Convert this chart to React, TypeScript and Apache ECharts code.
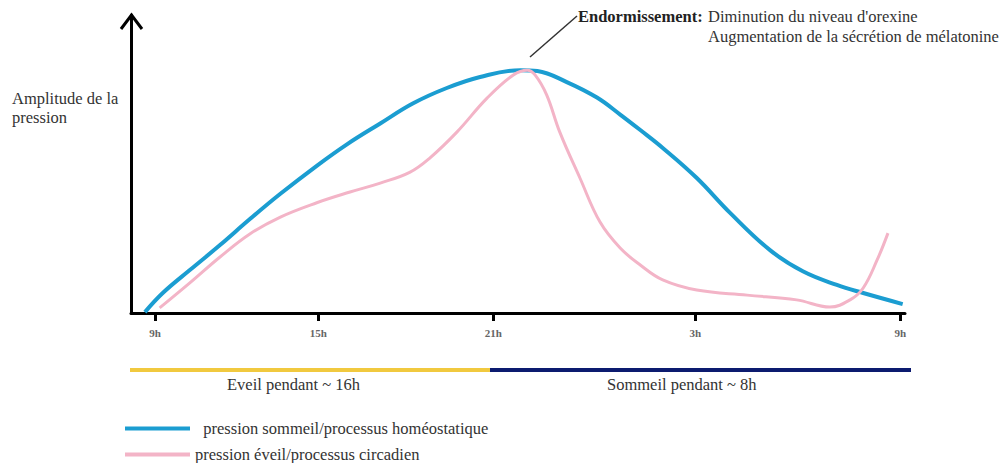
import React, { useEffect, useRef } from "react";
import * as echarts from "echarts";

// Abstract time axis: 0..100 along the drawn horizontal axis
const tickValues = [3.1, 24.2, 46.8, 72.9, 99.4];
const tickLabels = ["9h", "15h", "21h", "3h", "9h"];

const homeostaticName = "pression sommeil/processus homéostatique";
const circadianName = "pression éveil/processus circadien";

// [time position, amplitude]
const homeostaticPoints = [
  [1.8, 0.3], [4.1, 6.7], [7.6, 14.4], [11.5, 22.8], [15.4, 31.6], [19.3, 40.0],
  [24.0, 49.4], [27.9, 56.6], [32.2, 63.6], [36.4, 70.3], [40.8, 75.5], [45.1, 79.2],
  [50.3, 81.5], [52.5, 81.2], [56.3, 77.5], [60.2, 72.3], [63.2, 66.6], [65.8, 61.4],
  [68.7, 55.4], [73.1, 45.3], [77.4, 33.6], [82.6, 21.0], [86.8, 14.0], [91.2, 9.4],
  [94.6, 6.7], [99.7, 3.0],
];

const circadianPoints = [
  [3.7, 1.7], [7.6, 10.1], [11.5, 18.8], [15.4, 26.6], [19.3, 32.2], [24.0, 37.0],
  [28.3, 40.6], [32.2, 43.6], [36.0, 47.2], [38.6, 52.0], [42.1, 60.7], [46.0, 72.1],
  [49.4, 79.9], [51.2, 81.5], [52.2, 79.9], [53.7, 73.2], [55.4, 60.7], [58.0, 45.3],
  [60.6, 30.5], [63.2, 21.8], [65.8, 16.1], [68.7, 11.1], [73.1, 7.7], [79.6, 6.0],
  [86.0, 4.4], [90.3, 2.0], [92.9, 4.4], [94.6, 8.4], [96.4, 17.8], [97.8, 26.8],
];

const periodLabels = ["Eveil pendant ~ 16h", "Sommeil pendant ~ 8h"];
const annotationTitle = "Endormissement:";
const annotationLines = ["Diminution du niveau d'orexine", "Augmentation de la sécrétion de mélatonine"];
const yAxisTitle = "Amplitude de la\npression";

const FONT = "'Liberation Serif', 'Times New Roman', serif";
const BLUE = "#1b9dd1";
const PINK = "#f3b4c7";

export default function App() {
  const ref = useRef<HTMLDivElement>(null);
  useEffect(() => {
    if (!ref.current) return;
    const chart = echarts.init(ref.current, undefined, { renderer: "svg" });
    const textBase = { fontFamily: FONT, fontSize: 16.5, fill: "#333", verticalAlign: "middle" };
    chart.setOption({
      animation: false,
      backgroundColor: "#ffffff",
      textStyle: { fontFamily: FONT },
      grid: {
        left: 131,
        right: 98,
        top: 15,
        bottom: 150,
        containLabel: false,
        outerBoundsMode: "none",
      },
      xAxis: {
        type: "value",
        min: 0,
        max: 100,
        splitLine: { show: false },
        axisLine: { show: true, lineStyle: { color: "#000", width: 3 } },
        axisTick: {
          show: true,
          customValues: tickValues,
          length: 8,
          lineStyle: { color: "#000", width: 3 },
        },
        axisLabel: {
          show: true,
          customValues: tickValues,
          margin: 14,
          color: "#666",
          fontFamily: FONT,
          fontSize: 11,
          fontWeight: "bold",
          formatter: (v: number) => {
            const i = tickValues.findIndex((t) => Math.abs(t - v) < 1e-6);
            return i >= 0 ? tickLabels[i] : "";
          },
        },
      },
      yAxis: {
        type: "value",
        min: 0,
        max: 100,
        splitLine: { show: false },
        axisLine: { show: true, lineStyle: { color: "#000", width: 3 } },
        axisTick: { show: false },
        axisLabel: { show: false },
      },
      legend: {
        type: "plain",
        orient: "vertical",
        left: 125,
        top: 420,
        padding: 0,
        itemWidth: 65,
        itemHeight: 4,
        itemGap: 9,
        icon: "rect",
        textStyle: { fontFamily: FONT, fontSize: 16.5, color: "#333", lineHeight: 16 },
        formatter: (name: string) => (name === homeostaticName ? "\u00a0\u00a0" + name : name),
        data: [
          { name: homeostaticName, itemStyle: { color: BLUE } },
          { name: circadianName, itemStyle: { color: PINK } },
        ],
      },
      series: [
        {
          name: homeostaticName,
          type: "line",
          data: homeostaticPoints,
          smooth: 0.4,
          showSymbol: false,
          color: BLUE,
          lineStyle: { color: BLUE, width: 4 },
          z: 2,
        },
        {
          name: circadianName,
          type: "line",
          data: circadianPoints,
          smooth: 0.4,
          showSymbol: false,
          color: PINK,
          lineStyle: { color: PINK, width: 3 },
          z: 3,
        },
      ],
      graphic: [
        {
          type: "polyline",
          shape: { points: [[121, 29], [131.5, 15], [142, 29]] },
          style: { stroke: "#000", lineWidth: 3, fill: "none" },
        },
        {
          type: "text",
          x: 12,
          y: 108,
          style: { ...textBase, text: yAxisTitle, lineHeight: 19 },
        },
        {
          type: "line",
          shape: { x1: 530, y1: 57, x2: 577, y2: 16 },
          style: { stroke: "#333", lineWidth: 1.5 },
        },
        {
          type: "text",
          x: 578,
          y: 16,
          style: { ...textBase, text: annotationTitle, fontWeight: "bold", fill: "#222" },
        },
        {
          type: "text",
          x: 708,
          y: 16,
          style: { ...textBase, text: annotationLines[0] },
        },
        {
          type: "text",
          x: 708,
          y: 36,
          style: { ...textBase, text: annotationLines[1] },
        },
        {
          type: "line",
          shape: { x1: 130, y1: 370, x2: 490, y2: 370 },
          style: { stroke: "#f1c93f", lineWidth: 4 },
        },
        {
          type: "line",
          shape: { x1: 490, y1: 370, x2: 911, y2: 370 },
          style: { stroke: "#0c1b6f", lineWidth: 4 },
        },
        {
          type: "text",
          x: 227,
          y: 384,
          style: { ...textBase, text: periodLabels[0] },
        },
        {
          type: "text",
          x: 607,
          y: 384,
          style: { ...textBase, text: periodLabels[1] },
        },
      ],
    });
    return () => chart.dispose();
  }, []);
  return (
    <div
      ref={ref}
      style={{ position: "fixed", left: 0, top: 0, width: 1003, height: 463, background: "#fff" }}
    />
  );
}
